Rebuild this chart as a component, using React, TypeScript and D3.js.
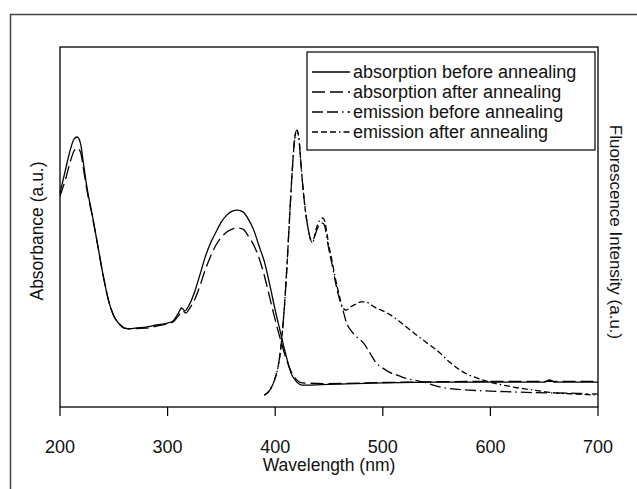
import * as d3 from 'd3'

const W = 637
const H = 489
const M = { left: 60, right: 598, top: 47, bottom: 407 }

const xTicks = [200, 300, 400, 500, 600, 700]

// absorbance (a.u.)
const absBeforeNm = [200, 205, 210, 213, 216, 219, 222, 225, 230, 235, 240, 245, 250, 255, 260, 265, 270, 280, 290, 300, 305, 310, 313, 316, 320, 325, 330, 335, 340, 345, 350, 355, 360, 365, 370, 375, 380, 385, 390, 395, 400, 405, 410, 415, 420, 425, 430, 450, 500, 550, 600, 650, 655, 660, 700]
const absBefore = [0.594, 0.658, 0.719, 0.744, 0.75, 0.733, 0.672, 0.611, 0.533, 0.45, 0.367, 0.297, 0.253, 0.231, 0.219, 0.217, 0.219, 0.222, 0.228, 0.233, 0.239, 0.261, 0.275, 0.267, 0.283, 0.319, 0.367, 0.417, 0.456, 0.486, 0.514, 0.533, 0.544, 0.547, 0.542, 0.522, 0.492, 0.447, 0.403, 0.339, 0.269, 0.206, 0.144, 0.092, 0.069, 0.061, 0.061, 0.063, 0.067, 0.069, 0.069, 0.069, 0.075, 0.069, 0.069]

const absAfterNm = [200, 205, 210, 213, 216, 219, 222, 225, 230, 235, 240, 245, 250, 255, 260, 265, 270, 280, 290, 300, 305, 310, 314, 317, 320, 325, 330, 335, 340, 345, 350, 355, 360, 365, 370, 375, 380, 385, 390, 395, 400, 405, 410, 415, 420, 425, 450, 500, 600, 700]
const absAfter = [0.586, 0.631, 0.686, 0.711, 0.719, 0.708, 0.658, 0.603, 0.531, 0.45, 0.367, 0.297, 0.253, 0.231, 0.219, 0.217, 0.218, 0.219, 0.225, 0.231, 0.236, 0.253, 0.267, 0.261, 0.272, 0.297, 0.336, 0.381, 0.419, 0.45, 0.472, 0.486, 0.494, 0.497, 0.494, 0.475, 0.45, 0.414, 0.364, 0.303, 0.242, 0.186, 0.136, 0.097, 0.075, 0.067, 0.065, 0.068, 0.071, 0.071]

// fluorescence intensity (a.u.)
const emBeforeNm = [390, 395, 400, 403, 406, 408, 410, 412, 414, 416, 418, 420, 422, 424, 426, 428, 430, 432, 434, 436, 438, 441, 444, 446, 448, 450, 453, 456, 459, 462, 464, 466, 470, 475, 482, 488, 494, 500, 506, 513, 520, 530, 538, 550, 562, 580, 600, 620, 640, 660, 680, 700]
const emBefore = [0.033, 0.047, 0.081, 0.117, 0.186, 0.256, 0.344, 0.45, 0.561, 0.664, 0.742, 0.769, 0.747, 0.672, 0.603, 0.547, 0.506, 0.475, 0.458, 0.464, 0.486, 0.506, 0.511, 0.503, 0.469, 0.436, 0.394, 0.347, 0.308, 0.278, 0.258, 0.236, 0.214, 0.197, 0.178, 0.15, 0.122, 0.108, 0.097, 0.089, 0.081, 0.074, 0.069, 0.058, 0.051, 0.047, 0.044, 0.042, 0.04, 0.039, 0.038, 0.036]

const emAfterNm = [390, 395, 400, 403, 406, 408, 410, 412, 414, 416, 418, 420, 422, 424, 426, 428, 430, 432, 434, 436, 438, 441, 444, 446, 448, 450, 453, 456, 459, 463, 466, 470, 475, 480, 484, 488, 492, 500, 507, 515, 522, 530, 541, 550, 562, 570, 580, 590, 600, 620, 640, 660, 680, 700]
const emAfter = [0.033, 0.047, 0.081, 0.117, 0.186, 0.256, 0.344, 0.45, 0.561, 0.664, 0.742, 0.769, 0.747, 0.672, 0.603, 0.547, 0.506, 0.475, 0.458, 0.469, 0.494, 0.517, 0.525, 0.517, 0.483, 0.447, 0.403, 0.356, 0.317, 0.275, 0.269, 0.278, 0.286, 0.292, 0.292, 0.286, 0.278, 0.267, 0.256, 0.239, 0.222, 0.203, 0.178, 0.158, 0.125, 0.106, 0.089, 0.078, 0.069, 0.056, 0.047, 0.039, 0.036, 0.033]

const seriesNames = ['absorption before annealing', 'absorption after annealing', 'emission before annealing', 'emission after annealing']
const seriesDash = ['none', '13 5', '11 4 11 4 1.5 4', '6 3 6 3 6 3 1.5 3']

const FONT = '"Liberation Sans", Arial, sans-serif'

export default function App() {
  const x = d3.scaleLinear().domain([200, 700]).range([M.left, M.right])
  const yAbs = d3.scaleLinear().domain([0, 1]).range([M.bottom, M.top])
  const yEm = d3.scaleLinear().domain([0, 1]).range([M.bottom, M.top])

  const mk = (xs: number[], ys: number[]) => xs.map((v, i) => [v, ys[i]] as [number, number])
  const lineAbs = d3.line<[number, number]>().x(d => x(d[0])).y(d => yAbs(d[1])).curve(d3.curveMonotoneX)
  const lineEm = d3.line<[number, number]>().x(d => x(d[0])).y(d => yEm(d[1])).curve(d3.curveMonotoneX)

  const paths = [
    lineAbs(mk(absBeforeNm, absBefore)),
    lineAbs(mk(absAfterNm, absAfter)),
    lineEm(mk(emBeforeNm, emBefore)),
    lineEm(mk(emAfterNm, emAfter)),
  ]

  const lg = { x: 307, y: 52, w: 288, h: 98, row: 20 }

  return (
    <svg width={W} height={H} style={{ position: 'absolute', left: 0, top: 0, background: '#fff' }} fontFamily={FONT}>
      {/* outer frame */}
      <path d={`M10.5,${H} V14.5 H${W}`} fill="none" stroke="#444" strokeWidth={1.5} />

      {/* curves */}
      {paths.map((d, i) => (
        <path key={i} d={d ?? ''} fill="none" stroke="#000" strokeWidth={1.3}
          strokeDasharray={seriesDash[i] === 'none' ? undefined : seriesDash[i]} />
      ))}

      {/* plot box */}
      <rect x={M.left} y={M.top} width={M.right - M.left} height={M.bottom - M.top} fill="none" stroke="#000" strokeWidth={1.3} />

      {/* x ticks */}
      {xTicks.map(t => (
        <g key={t}>
          <line x1={x(t)} x2={x(t)} y1={M.bottom} y2={M.bottom + 9} stroke="#000" strokeWidth={1.2} />
          <text x={x(t)} y={453} textAnchor="middle" fontSize={18} fill="#111">{t}</text>
        </g>
      ))}
      <text x={(M.left + M.right) / 2} y={471} textAnchor="middle" fontSize={17.5} fill="#111">Wavelength (nm)</text>
      <text transform={`translate(43,231) rotate(-90)`} textAnchor="middle" fontSize={17.5} fill="#111">Absorbance (a.u.)</text>
      <text transform={`translate(610,232) rotate(90)`} textAnchor="middle" fontSize={17} fill="#111">Fluorescence Intensity (a.u.)</text>

      {/* legend */}
      <rect x={lg.x} y={lg.y} width={lg.w} height={lg.h} fill="#fff" stroke="#000" strokeWidth={1.2} />
      {seriesNames.map((n, i) => {
        const cy = lg.y + 20 + i * lg.row
        return (
          <g key={n}>
            <line x1={lg.x + 5} x2={lg.x + 43} y1={cy} y2={cy} stroke="#000" strokeWidth={1.3}
              strokeDasharray={seriesDash[i] === 'none' ? undefined : seriesDash[i]} />
            <text x={lg.x + 46} y={cy + 6} fontSize={18} fill="#111">{n}</text>
          </g>
        )
      })}
    </svg>
  )
}
